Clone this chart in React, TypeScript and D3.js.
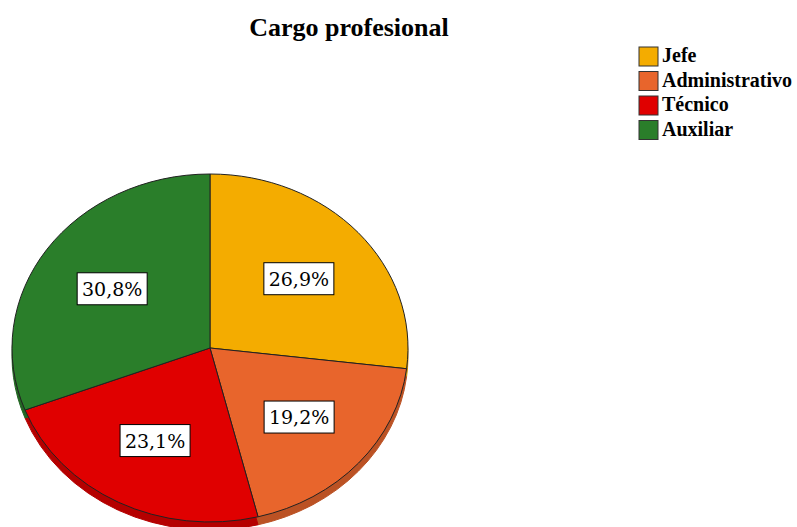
import React from 'react'
import * as d3 from 'd3'

const categories = ['Jefe', 'Administrativo', 'Técnico', 'Auxiliar']
const percentages = [26.9, 19.2, 23.1, 30.8]
const labels = ['26,9%', '19,2%', '23,1%', '30,8%']
const colors = ['#f4ac00', '#e8652c', '#e00000', '#2a7e2a']
const title = 'Cargo profesional'

const W = 797
const H = 527
const SERIF = "'Liberation Serif', 'DejaVu Serif', 'Times New Roman', serif"
const LABEL_FONT = "'DejaVu Serif', serif"

const App = () => {
  const cx = 210
  const cy = 348
  const rx = 198
  const ry = 174
  const depth = 8
  const k = ry / rx

  const pie = d3
    .pie<number>()
    .sort(null)
    .value((d) => d)
  const slices = pie(percentages)
  const arc = d3.arc<d3.PieArcDatum<number>>().innerRadius(0).outerRadius(rx)

  return (
    <svg width={W} height={H} style={{ position: 'absolute', left: 0, top: 0 }}>
      <rect width={W} height={H} fill="#fff" />
      <text x={349} y={36} textAnchor="middle" fontFamily={SERIF} fontWeight="bold" fontSize={26} fill="#000">
        {title}
      </text>

      {/* side wall: darker copies shifted down */}
      <g transform={`translate(${cx},${cy + depth}) scale(1,${k})`}>
        {slices.map((s, i) => (
          <path
            key={i}
            d={arc(s) || ''}
            fill={d3.color(colors[i])!.darker(0.6).toString()}
            stroke={d3.color(colors[i])!.darker(0.6).toString()}
            strokeWidth={1}
            vectorEffect="non-scaling-stroke"
          />
        ))}
      </g>
      <g transform={`translate(${cx},${cy}) scale(1,${k})`}>
        {slices.map((s, i) => (
          <path
            key={i}
            d={arc(s) || ''}
            fill={colors[i]}
            stroke="#222"
            strokeWidth={1}
            vectorEffect="non-scaling-stroke"
          />
        ))}
      </g>

      {slices.map((s, i) => {
        const a = (s.startAngle + s.endAngle) / 2
        const f = 0.6
        const x = cx + Math.sin(a) * rx * f
        const y = cy - Math.cos(a) * ry * f
        return (
          <g key={i}>
            <rect x={x - 35} y={y - 16} width={70} height={32} fill="#fff" stroke="#000" strokeWidth={1} />
            <text x={x} y={y + 7} textAnchor="middle" fontFamily={LABEL_FONT} fontSize={19} fill="#000">
              {labels[i]}
            </text>
          </g>
        )
      })}

      {categories.map((c, i) => (
        <g key={c} transform={`translate(639,${47 + i * 24.5})`}>
          <rect width={19} height={19} fill={colors[i]} stroke="#333" strokeWidth={1} />
          <text x={23} y={15} fontFamily={SERIF} fontWeight="bold" fontSize={20} fill="#000">
            {c}
          </text>
        </g>
      ))}
    </svg>
  )
}

export default App
